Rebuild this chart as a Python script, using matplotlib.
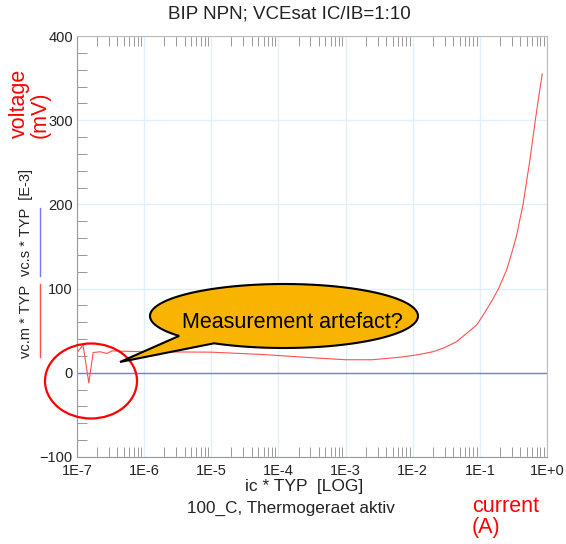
import numpy as np
import matplotlib
matplotlib.use("Agg")
import matplotlib.pyplot as plt
from matplotlib.patches import Ellipse, PathPatch
from matplotlib.path import Path
from matplotlib.ticker import LogLocator, MultipleLocator, FixedLocator, NullFormatter

plt.rcParams['font.family'] = ['Liberation Sans', 'DejaVu Sans']

# data
ic = [1e-7, 1.23e-7, 1.5e-7, 1.74e-7, 2.2e-7, 2.8e-7, 3.3e-7, 1e-6, 1e-5,
      5e-5, 1e-4, 3e-4, 1e-3, 2.5e-3, 6.5e-3, 1.2e-2, 2e-2, 3e-2, 4.5e-2, 6.4e-2,
      0.09, 0.113, 0.155, 0.19, 0.25, 0.3, 0.35, 0.44, 0.55, 0.67, 0.76, 0.85]
vcm = [24, 33, -12, 24, 25, 23, 26, 25, 24.5,
       22, 20.5, 18, 15.5, 15.5, 18.5, 21.5, 25, 30, 37, 47,
       57, 69, 87, 100, 122, 143, 162, 200, 250, 300, 330, 355]
vcs_x = [1e-7, 1.0]
vcs = [0, 0]

xticks = [1e-7, 1e-6, 1e-5, 1e-4, 1e-3, 1e-2, 1e-1, 1e0]
xlabels = ["1E-7", "1E-6", "1E-5", "1E-4", "1E-3", "1E-2", "1E-1", "1E+0"]
yticks = [-100, 0, 100, 200, 300, 400]

W, H = 566, 544
fig = plt.figure(figsize=(W / 100, H / 100), dpi=100)
ax = fig.add_axes([77 / W, 1 - 457 / H, 470 / W, 421 / H])

ax.plot(vcs_x, vcs, color="#7777ff", lw=1.0)
ax.plot(ic, vcm, color="#ff5050", lw=0.8)

ax.set_xscale("log")
ax.set_xlim(1e-7, 1)
ax.set_ylim(-100, 400)
ax.xaxis.set_major_locator(FixedLocator(xticks))
ax.set_xticklabels(xlabels)
ax.xaxis.set_minor_locator(LogLocator(base=10, subs=np.arange(2, 10), numticks=20))
ax.xaxis.set_minor_formatter(NullFormatter())
ax.set_yticks(yticks)
ax.yaxis.set_minor_locator(MultipleLocator(20))
ax.grid(True, which="major", color="#e2f0fb", lw=1)
ax.tick_params(which="major", length=0, labelsize=10.5, colors="#222")
ax.tick_params(axis="x", which="major", pad=5)
ax.tick_params(axis="y", which="major", pad=3)
ax.tick_params(which="minor", direction="in", length=7, color="#888",
               top=True, bottom=True, left=True, right=False)
for s in ["left", "bottom"]:
    ax.spines[s].set_color("#999")
for s in ["right", "top"]:
    ax.spines[s].set_color("#bbb")

# overlay in pixel coordinates for the texts and the drawn shapes
ov = fig.add_axes([0, 0, 1, 1], zorder=10)
ov.set_xlim(0, W)
ov.set_ylim(H, 0)
ov.axis("off")
ov.patch.set_visible(False)

ov.text(289, 14, "BIP NPN; VCEsat IC/IB=1:10", ha="center", va="center", fontsize=13.5, color="#222")
ov.text(304, 487, "ic * TYP  [LOG]", ha="center", va="center", fontsize=12.5, color="#222")
ov.text(291, 508, "100_C, Thermogeraet aktiv", ha="center", va="center", fontsize=12.3, color="#222")
ov.text(472, 517, "current\n(A)", ha="left", va="center", fontsize=15.5, color="red", linespacing=1.0)
ov.text(30, 103, "voltage\n(mV)", ha="center", va="center", rotation=90, fontsize=15.5,
        color="red", multialignment="left", linespacing=1.0)
ov.text(26, 223, "vc.s * TYP  [E-3]", ha="center", va="center", rotation=90, fontsize=10.5, color="#222")
ov.text(26, 321, "vc.m * TYP", ha="center", va="center", rotation=90, fontsize=10.5, color="#222")
ov.plot([40, 40], [208, 276], color="#7777ff", lw=1)
ov.plot([40, 40], [284, 357], color="#ff5050", lw=1)

# red circle round the artefact
ov.add_patch(Ellipse((91, 381), 92, 75, fill=False, edgecolor="red", lw=1.6))

# speech bubble
cx, cy, a, b = 284, 316, 134, 32
t1 = np.arctan2(0.62, -0.78)
t2 = np.arctan2(0.85, -0.52) + 2 * np.pi
th = np.linspace(t1, t2, 200)
pts = np.column_stack([cx + a * np.cos(th), cy + b * np.sin(th)])
pts = np.vstack([pts, [[120, 362]], pts[:1]])
codes = [Path.MOVETO] + [Path.LINETO] * (len(pts) - 2) + [Path.CLOSEPOLY]
ov.add_patch(PathPatch(Path(pts, codes), facecolor="#f8b400", edgecolor="black", lw=1.5))
ov.text(292, 322, "Measurement artefact?", ha="center", va="center", fontsize=15.5, color="black")

fig.savefig("out.png", dpi=100)
